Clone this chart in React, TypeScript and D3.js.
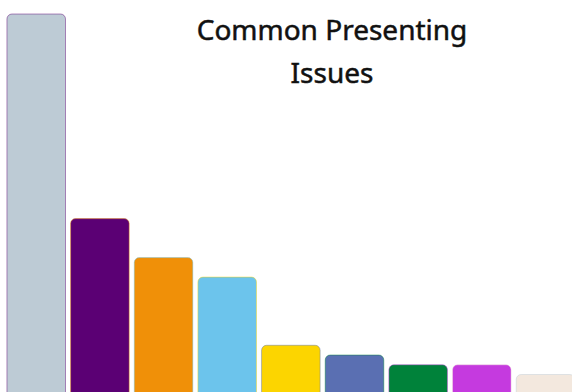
import React, { useEffect, useRef } from 'react';
import * as d3 from 'd3';

const issues = ['Anxiety', 'Depression', 'Stress', 'Relationships', 'Grief', 'Self-esteem', 'Trauma', 'Anger', 'Other'];
const counts = [39, 18, 14, 12, 5, 4, 3, 3, 2];
const fills = ['#bdcbd5', '#5b0074', '#f09008', '#6cc4ec', '#fcd500', '#5a6fb2', '#00823a', '#c53adf', '#f3e8de'];
const titleLines = ['Common Presenting', 'Issues'];

const App = () => {
  const chart = useRef<SVGSVGElement>(null);

  useEffect(() => {
    const width = 572;
    const height = 392;
    const svg = d3.select(chart.current);
    svg.selectAll('*').remove();

    const x = d3.scaleBand<string>()
      .domain(issues)
      .range([4.4, 577.3])
      .paddingInner(0.08)
      .paddingOuter(0.04);

    // baseline sits just below the visible area
    const y = d3.scaleLinear().domain([0, 39]).range([394, 14]);

    const r = 5;
    const barPath = (x0: number, y0: number, w: number, y1: number) => {
      const p = d3.path();
      p.moveTo(x0, y1);
      p.lineTo(x0, y0 + r);
      p.arcTo(x0, y0, x0 + r, y0, r);
      p.lineTo(x0 + w - r, y0);
      p.arcTo(x0 + w, y0, x0 + w, y0 + r, r);
      p.lineTo(x0 + w, y1);
      return p.toString();
    };

    svg.append('g')
      .selectAll('path')
      .data(issues)
      .join('path')
      .attr('d', (d, i) => barPath(x(d)!, y(counts[i]), x.bandwidth(), y(0) + 2))
      .attr('fill', (d, i) => fills[i])
      .attr('stroke', (d, i) => fills[(i + 1) % fills.length])
      .attr('stroke-opacity', 0.45)
      .attr('stroke-width', 1);

    svg.append('text')
      .attr('x', 332)
      .attr('y', 40)
      .attr('text-anchor', 'middle')
      .attr('font-family', '"Noto Sans", sans-serif')
      .attr('font-weight', 400)
      .attr('font-size', 28)
      .attr('fill', '#111')
      .attr('stroke', '#111')
      .attr('stroke-width', 0.5)
      .selectAll('tspan')
      .data(titleLines)
      .join('tspan')
      .attr('x', 332)
      .attr('dy', (d, i) => (i === 0 ? 0 : 43))
      .text(d => d);

    svg.attr('width', width).attr('height', height);
  }, []);

  return (
    <svg ref={chart} style={{ position: 'absolute', left: 0, top: 0, display: 'block' }}></svg>
  );
};

export default App;
